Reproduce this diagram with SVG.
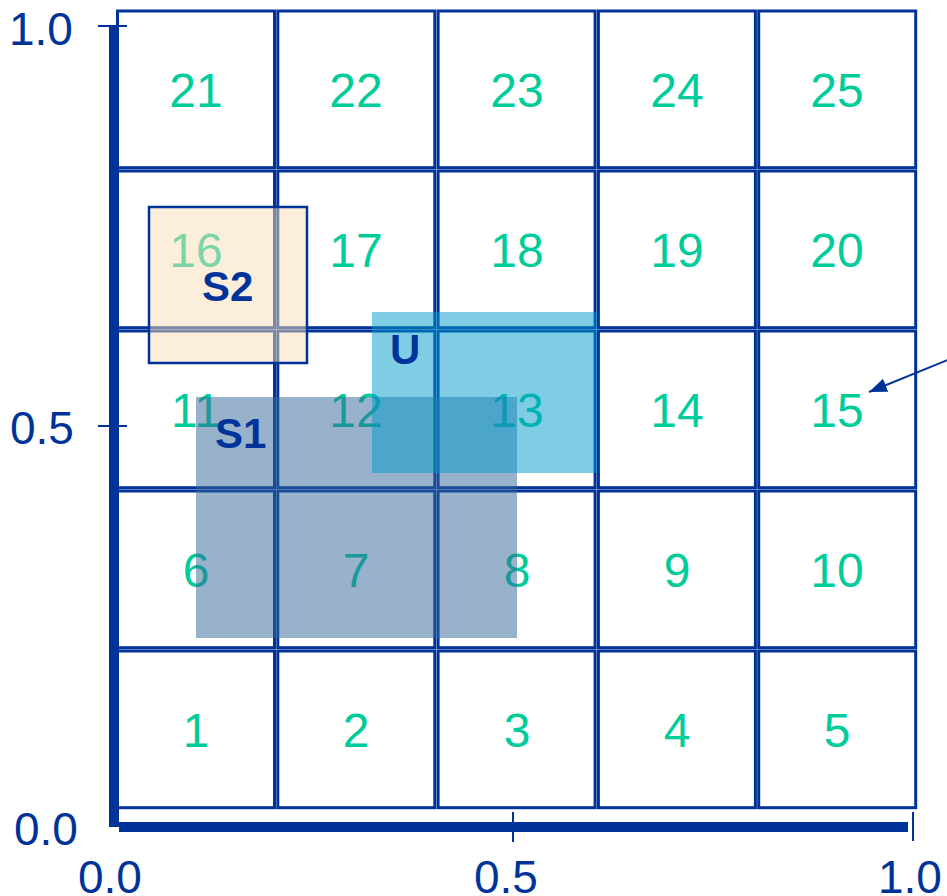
<svg xmlns="http://www.w3.org/2000/svg" width="947" height="896" viewBox="0 0 947 896">
<style>
.cell{fill:#ffffff;stroke:#003399;stroke-width:3}
.num{font-family:"Liberation Sans",Arial,sans-serif;font-size:48px;fill:#00CC99;text-anchor:middle}
.ax{font-family:"Liberation Sans",Arial,sans-serif;font-size:46px;fill:#003399}
.lbl{font-family:"Liberation Sans",Arial,sans-serif;font-size:42px;font-weight:bold;fill:#003399}
.tick{stroke:#003399;stroke-width:2}
</style>
<defs>
<marker id="ah" markerUnits="userSpaceOnUse" markerWidth="20" markerHeight="16" refX="18" refY="7" orient="auto">
<path d="M0,0 L18,7 L0,14 Z" fill="#003399"/>
</marker>
</defs>
<rect width="947" height="896" fill="#ffffff"/>
<g id="grid">
<g id="c21"><rect class="cell" x="117.5" y="11" width="157" height="156.7"/><text class="num" x="196" y="107">21</text></g>
<g id="c22"><rect class="cell" x="277.8" y="11" width="157" height="156.7"/><text class="num" x="356" y="107">22</text></g>
<g id="c23"><rect class="cell" x="438.1" y="11" width="157" height="156.7"/><text class="num" x="517" y="107">23</text></g>
<g id="c24"><rect class="cell" x="598.4" y="11" width="157" height="156.7"/><text class="num" x="677" y="107">24</text></g>
<g id="c25"><rect class="cell" x="758.7" y="11" width="157" height="156.7"/><text class="num" x="837" y="107">25</text></g>
<g id="c16"><rect class="cell" x="117.5" y="171" width="157" height="156.7"/><text class="num" x="196" y="267">16</text></g>
<g id="c17"><rect class="cell" x="277.8" y="171" width="157" height="156.7"/><text class="num" x="356" y="267">17</text></g>
<g id="c18"><rect class="cell" x="438.1" y="171" width="157" height="156.7"/><text class="num" x="517" y="267">18</text></g>
<g id="c19"><rect class="cell" x="598.4" y="171" width="157" height="156.7"/><text class="num" x="677" y="267">19</text></g>
<g id="c20"><rect class="cell" x="758.7" y="171" width="157" height="156.7"/><text class="num" x="837" y="267">20</text></g>
<g id="c11"><rect class="cell" x="117.5" y="331" width="157" height="156.7"/><text class="num" x="196" y="427">11</text></g>
<g id="c12"><rect class="cell" x="277.8" y="331" width="157" height="156.7"/><text class="num" x="356" y="427">12</text></g>
<g id="c13"><rect class="cell" x="438.1" y="331" width="157" height="156.7"/><text class="num" x="517" y="427">13</text></g>
<g id="c14"><rect class="cell" x="598.4" y="331" width="157" height="156.7"/><text class="num" x="677" y="427">14</text></g>
<g id="c15"><rect class="cell" x="758.7" y="331" width="157" height="156.7"/><text class="num" x="837" y="427">15</text></g>
<g id="c6"><rect class="cell" x="117.5" y="491" width="157" height="156.7"/><text class="num" x="196" y="587">6</text></g>
<g id="c7"><rect class="cell" x="277.8" y="491" width="157" height="156.7"/><text class="num" x="356" y="587">7</text></g>
<g id="c8"><rect class="cell" x="438.1" y="491" width="157" height="156.7"/><text class="num" x="517" y="587">8</text></g>
<g id="c9"><rect class="cell" x="598.4" y="491" width="157" height="156.7"/><text class="num" x="677" y="587">9</text></g>
<g id="c10"><rect class="cell" x="758.7" y="491" width="157" height="156.7"/><text class="num" x="837" y="587">10</text></g>
<g id="c1"><rect class="cell" x="117.5" y="651" width="157" height="156.7"/><text class="num" x="196" y="747">1</text></g>
<g id="c2"><rect class="cell" x="277.8" y="651" width="157" height="156.7"/><text class="num" x="356" y="747">2</text></g>
<g id="c3"><rect class="cell" x="438.1" y="651" width="157" height="156.7"/><text class="num" x="517" y="747">3</text></g>
<g id="c4"><rect class="cell" x="598.4" y="651" width="157" height="156.7"/><text class="num" x="677" y="747">4</text></g>
<g id="c5"><rect class="cell" x="758.7" y="651" width="157" height="156.7"/><text class="num" x="837" y="747">5</text></g>
</g>
<g id="S1"><rect x="196" y="397" width="321" height="241" fill="#336699" fill-opacity="0.5"/></g>
<g id="U"><rect x="372" y="312" width="225" height="161" fill="#0099CC" fill-opacity="0.5"/></g>
<g id="S2"><rect x="149" y="207" width="158" height="156" fill="#F8DDB5" fill-opacity="0.5" stroke="#003399" stroke-width="2.5"/></g>
<g id="labels">
<text class="lbl" x="202" y="301">S2</text>
<text class="lbl" x="390" y="364">U</text>
<text class="lbl" x="215" y="448">S1</text>
</g>
<g id="axes">
<rect x="109" y="27" width="10" height="800" fill="#003399"/>
<rect x="119" y="822" width="789" height="10" fill="#003399"/>
<line class="tick" x1="98" y1="26" x2="127" y2="26"/>
<line class="tick" x1="98" y1="426" x2="127" y2="426"/>
<line class="tick" x1="513" y1="812" x2="513" y2="842"/>
<line class="tick" x1="913" y1="812" x2="913" y2="841"/>
<text class="ax" x="9" y="45">1.0</text>
<text class="ax" x="10" y="444">0.5</text>
<text class="ax" x="14" y="845">0.0</text>
<text class="ax" x="78" y="893">0.0</text>
<text class="ax" x="474" y="893">0.5</text>
<text class="ax" x="878" y="893">1.0</text>
</g>
<g id="connectors">
<line x1="950" y1="359" x2="869" y2="392" stroke="#003399" stroke-width="2" marker-end="url(#ah)"/>
</g>
</svg>
